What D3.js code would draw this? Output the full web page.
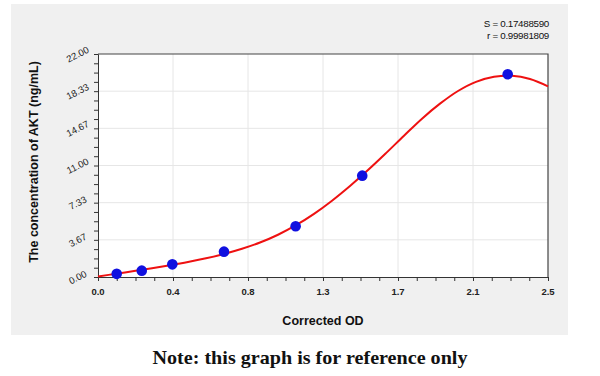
<!DOCTYPE html>
<html><head><meta charset="utf-8">
<script src="https://cdn.jsdelivr.net/npm/d3@7"></script>
<style>body{margin:0;background:#fff}svg{display:block}</style>
</head><body>
<svg id="c" width="600" height="376"></svg>
<script>
// Data
const odValues = [0.104, 0.243, 0.413, 0.700, 1.098, 1.468, 2.276];
const concValues = [0.3125, 0.625, 1.25, 2.5, 5, 10, 20];
const curveOD = [0, 0.1, 0.2, 0.3, 0.4, 0.5, 0.6, 0.7, 0.8, 0.9, 1.0, 1.1, 1.2, 1.3, 1.4, 1.5, 1.6, 1.7, 1.8, 1.9, 2.0, 2.1, 2.2, 2.3, 2.4, 2.5];
const curveConc = [0.05, 0.32, 0.59, 0.86, 1.15, 1.47, 1.84, 2.27, 2.78, 3.40, 4.17, 5.11, 6.23, 7.53, 8.98, 10.55, 12.22, 13.94, 15.62, 17.10, 18.35, 19.25, 19.75, 19.85, 19.53, 18.81];
const xTickLabels = ["0.0", "0.4", "0.8", "1.3", "1.7", "2.1", "2.5"];
const yTickLabels = ["0.00", "3.67", "7.33", "11.00", "14.67", "18.33", "22.00"];
const statLines = ["S = 0.17488590", "r = 0.99981809"];
const xTitle = "Corrected OD";
const yTitle = "The concentration of AKT (ng/mL)";
const note = "Note: this graph is for reference only";

const svg = d3.select("#c");
const L = 98, R = 548, T = 54, B = 277;
const x = d3.scaleLinear().domain([0, 2.5]).range([L, R]);
const y = d3.scaleLinear().domain([0, 22]).range([B, T]);

// gray panel
svg.append("rect").attr("x", 11).attr("y", 4).attr("width", 557).attr("height", 331).attr("fill", "#f0f0f0");
// plot area
svg.append("rect").attr("x", L).attr("y", T).attr("width", R - L).attr("height", B - T).attr("fill", "#fff");

const xMajor = d3.range(7).map(i => i * 2.5 / 6);
const yMajor = d3.range(7).map(i => i * 22 / 6);
const xMinor = d3.range(25).map(i => i * 2.5 / 24);
const yMinor = d3.range(25).map(i => i * 22 / 24);

// grid
const g = svg.append("g");
g.selectAll(".gx").data(xMajor.slice(1, 6)).join("line")
  .attr("x1", d => x(d)).attr("x2", d => x(d)).attr("y1", T).attr("y2", B)
  .attr("stroke", "#e6e6e6").attr("stroke-width", 1);
g.selectAll(".gy").data(yMajor.slice(1, 6)).join("line")
  .attr("x1", L).attr("x2", R).attr("y1", d => y(d)).attr("y2", d => y(d))
  .attr("stroke", "#e6e6e6").attr("stroke-width", 1);

// axes
const xAxis = d3.axisBottom(x).tickValues(xMinor).tickSize(4).tickFormat("");
svg.append("g").attr("transform", `translate(0,${B})`).call(xAxis)
  .call(a => a.selectAll("line,path").attr("stroke", "#333"));
const yAxis = d3.axisLeft(y).tickValues(yMinor).tickSize(4).tickFormat("");
svg.append("g").attr("transform", `translate(${L},0)`).call(yAxis)
  .call(a => a.selectAll("line,path").attr("stroke", "#333"));

// border top/right
svg.append("path").attr("d", `M${L},${T}H${R}V${B}`).attr("fill", "none").attr("stroke", "#444").attr("stroke-width", 1.2);

// tick labels
svg.append("g").selectAll("text").data(xMajor).join("text")
  .attr("x", d => x(d)).attr("y", B + 18).attr("text-anchor", "middle")
  .attr("font-family", "Liberation Sans, Arial, sans-serif").attr("font-size", 9.5).attr("font-weight", "bold").attr("fill", "#222")
  .text((d, i) => xTickLabels[i]);
svg.append("g").selectAll("text").data(yMajor).join("text")
  .attr("transform", d => `translate(${L - 20},${y(d) + 1}) rotate(-27)`)
  .attr("text-anchor", "middle").attr("dominant-baseline", "middle")
  .attr("font-family", "Liberation Sans, Arial, sans-serif").attr("font-size", 9.5).attr("fill", "#222")
  .text((d, i) => yTickLabels[i]);

// curve
const line = d3.line().x(d => x(d[0])).y(d => y(d[1])).curve(d3.curveCatmullRom);
svg.append("path").datum(curveOD.map((d, i) => [d, curveConc[i]]))
  .attr("d", line).attr("fill", "none").attr("stroke", "#ee1111").attr("stroke-width", 2);

// points
svg.append("g").selectAll("circle").data(odValues).join("circle")
  .attr("cx", d => x(d)).attr("cy", (d, i) => y(concValues[i])).attr("r", 5.3)
  .attr("fill", "#1010e0");

// titles
svg.append("text").attr("x", (L + R) / 2 - 0).attr("y", 325).attr("text-anchor", "middle")
  .attr("font-family", "Liberation Sans, Arial, sans-serif").attr("font-size", 12.5).attr("font-weight", "bold").attr("fill", "#111")
  .text(xTitle);
svg.append("text").attr("transform", `translate(38,162) rotate(-90)`).attr("text-anchor", "middle")
  .attr("font-family", "Liberation Sans, Arial, sans-serif").attr("font-size", 12.5).attr("font-weight", "bold").attr("fill", "#111")
  .text(yTitle);

// stats
svg.append("g").selectAll("text").data(statLines).join("text")
  .attr("x", R + 1).attr("y", (d, i) => 27 + i * 12).attr("text-anchor", "end")
  .attr("font-family", "Liberation Sans, Arial, sans-serif").attr("font-size", 9.8).attr("fill", "#111")
  .attr("letter-spacing", -0.3)
  .text(d => d);

// note
svg.append("text").attr("x", 310).attr("y", 364).attr("text-anchor", "middle")
  .attr("font-family", "Liberation Serif, serif").attr("font-size", 19).attr("font-weight", "bold").attr("fill", "#111")
  .attr("textLength", 315).attr("lengthAdjust", "spacingAndGlyphs")
  .text(note);
</script>
</body></html>
